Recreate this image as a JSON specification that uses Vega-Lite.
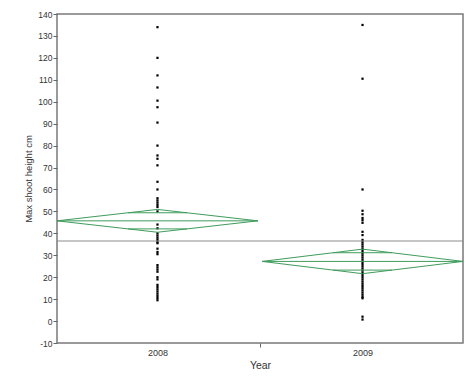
{
  "$schema": "https://vega.github.io/schema/vega-lite/v6.json",
  "width": 406,
  "height": 329,
  "autosize": "none",
  "padding": {"left": 57, "top": 14, "right": 11, "bottom": 39},
  "background": "white",
  "config": {
    "view": {"stroke": "#7a7a7a", "strokeWidth": 1.5},
    "font": "Liberation Sans",
    "axis": {"labelFont": "Liberation Sans", "titleFont": "Liberation Sans", "labelColor": "#333", "titleColor": "#333", "grid": false}
  },
  "datasets": {
    "points": [
      {"year": 2008, "height": 134}, {"year": 2008, "height": 120}, {"year": 2008, "height": 112}, {"year": 2008, "height": 106.5},
      {"year": 2008, "height": 100.5}, {"year": 2008, "height": 97.5}, {"year": 2008, "height": 90.5}, {"year": 2008, "height": 80},
      {"year": 2008, "height": 75.5}, {"year": 2008, "height": 74}, {"year": 2008, "height": 71}, {"year": 2008, "height": 63.5},
      {"year": 2008, "height": 60}, {"year": 2008, "height": 56}, {"year": 2008, "height": 55}, {"year": 2008, "height": 54},
      {"year": 2008, "height": 53}, {"year": 2008, "height": 52}, {"year": 2008, "height": 50}, {"year": 2008, "height": 44},
      {"year": 2008, "height": 42.3}, {"year": 2008, "height": 40}, {"year": 2008, "height": 39}, {"year": 2008, "height": 38},
      {"year": 2008, "height": 37}, {"year": 2008, "height": 36}, {"year": 2008, "height": 35.5}, {"year": 2008, "height": 33},
      {"year": 2008, "height": 31.5}, {"year": 2008, "height": 30.5}, {"year": 2008, "height": 25.5}, {"year": 2008, "height": 24.5},
      {"year": 2008, "height": 23.5}, {"year": 2008, "height": 22.5}, {"year": 2008, "height": 20}, {"year": 2008, "height": 19},
      {"year": 2008, "height": 16.5}, {"year": 2008, "height": 15.5}, {"year": 2008, "height": 14.5}, {"year": 2008, "height": 13.5},
      {"year": 2008, "height": 12.5}, {"year": 2008, "height": 11.5}, {"year": 2008, "height": 10.5}, {"year": 2008, "height": 9.5},
      {"year": 2009, "height": 135}, {"year": 2009, "height": 110.5}, {"year": 2009, "height": 60}, {"year": 2009, "height": 50.3},
      {"year": 2009, "height": 48.7}, {"year": 2009, "height": 47}, {"year": 2009, "height": 46}, {"year": 2009, "height": 44.8},
      {"year": 2009, "height": 40.7}, {"year": 2009, "height": 39.2}, {"year": 2009, "height": 37}, {"year": 2009, "height": 36},
      {"year": 2009, "height": 35}, {"year": 2009, "height": 34}, {"year": 2009, "height": 33}, {"year": 2009, "height": 32},
      {"year": 2009, "height": 31}, {"year": 2009, "height": 30}, {"year": 2009, "height": 29}, {"year": 2009, "height": 28},
      {"year": 2009, "height": 27}, {"year": 2009, "height": 26}, {"year": 2009, "height": 25}, {"year": 2009, "height": 24},
      {"year": 2009, "height": 23}, {"year": 2009, "height": 22}, {"year": 2009, "height": 21}, {"year": 2009, "height": 20},
      {"year": 2009, "height": 19}, {"year": 2009, "height": 18}, {"year": 2009, "height": 17}, {"year": 2009, "height": 16},
      {"year": 2009, "height": 15}, {"year": 2009, "height": 14}, {"year": 2009, "height": 13}, {"year": 2009, "height": 12},
      {"year": 2009, "height": 11}, {"year": 2009, "height": 10.4}, {"year": 2009, "height": 2}, {"year": 2009, "height": 0.7}
    ],
    "diamonds": [
      {"x": 2007.51, "y": 45.7, "x2": 2008, "y2": 50.9},
      {"x": 2008, "y": 50.9, "x2": 2008.49, "y2": 45.7},
      {"x": 2008.49, "y": 45.7, "x2": 2008, "y2": 40.5},
      {"x": 2008, "y": 40.5, "x2": 2007.51, "y2": 45.7},
      {"x": 2007.51, "y": 45.7, "x2": 2008.49, "y2": 45.7},
      {"x": 2007.856, "y": 49.38, "x2": 2008.144, "y2": 49.38},
      {"x": 2007.856, "y": 42.02, "x2": 2008.144, "y2": 42.02},
      {"x": 2008.51, "y": 27.2, "x2": 2009, "y2": 32.8},
      {"x": 2009, "y": 32.8, "x2": 2009.49, "y2": 27.2},
      {"x": 2009.49, "y": 27.2, "x2": 2009, "y2": 21.6},
      {"x": 2009, "y": 21.6, "x2": 2008.51, "y2": 27.2},
      {"x": 2008.51, "y": 27.2, "x2": 2009.49, "y2": 27.2},
      {"x": 2008.856, "y": 31.16, "x2": 2009.144, "y2": 31.16},
      {"x": 2008.856, "y": 23.24, "x2": 2009.144, "y2": 23.24}
    ],
    "grand": [{"grand_mean": 36.5}]
  },
  "layer": [
    {
      "data": {"name": "points"},
      "mark": {"type": "square", "color": "black", "size": 5, "opacity": 1},
      "encoding": {
        "x": {
          "field": "year", "type": "quantitative",
          "scale": {"domain": [2007.51, 2009.49], "nice": false, "zero": false},
          "axis": {
            "title": "Year", "titleFontSize": 10.5, "titleFontWeight": "normal", "titlePadding": 3,
            "values": [2008, 2008.5, 2009], "tickCount": 3,
            "labelExpr": "datum.value == 2008.5 ? '' : datum.value + ''",
            "labelFontSize": 9, "labelPadding": 1, "labelOverlap": false,
            "tickSize": 4, "tickColor": "#666",
            "tickOpacity": {"condition": {"test": "datum.value == 2008.5", "value": 1}, "value": 0},
            "domain": false
          }
        },
        "y": {
          "field": "height", "type": "quantitative",
          "scale": {"domain": [-10, 140], "nice": false, "zero": false},
          "axis": {
            "title": "Max shoot height cm", "titleFontSize": 9.5, "titleFontWeight": "normal", "titlePadding": 4,
            "values": [-10, 0, 10, 20, 30, 40, 50, 60, 70, 80, 90, 100, 110, 120, 130, 140], "tickCount": 16,
            "labelExpr": "datum.value + ''",
            "labelFontSize": 8.5, "labelPadding": 1, "labelOverlap": false, "labelFlush": false,
            "tickSize": 4, "tickColor": "#666",
            "domain": false
          }
        }
      }
    },
    {
      "data": {"name": "grand"},
      "mark": {"type": "rule", "color": "#8c8c8c", "strokeWidth": 1},
      "encoding": {
        "y": {"field": "grand_mean", "type": "quantitative"}
      }
    },
    {
      "data": {"name": "diamonds"},
      "mark": {"type": "rule", "color": "#3f9c5c", "strokeWidth": 1},
      "encoding": {
        "x": {"field": "x", "type": "quantitative"},
        "x2": {"field": "x2"},
        "y": {"field": "y", "type": "quantitative"},
        "y2": {"field": "y2"}
      }
    }
  ]
}
